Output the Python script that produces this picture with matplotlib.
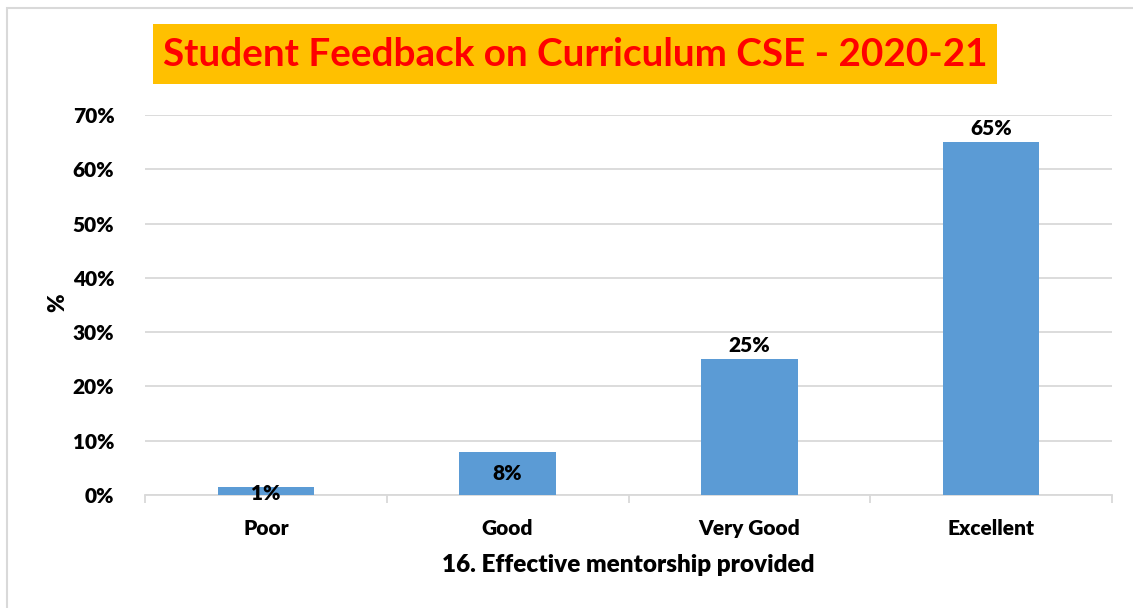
import matplotlib
matplotlib.use("Agg")
import matplotlib.pyplot as plt
from matplotlib.patches import Rectangle
from matplotlib.ticker import FuncFormatter, MultipleLocator

categories = ["Poor", "Good", "Very Good", "Excellent"]
values = [1.4, 7.9, 25, 65]
labels = ["1%", "8%", "25%", "65%"]
label_inside = [True, True, False, False]
title = "Student Feedback on Curriculum CSE - 2020-21"
xlabel = "16. Effective mentorship provided"
ylabel = "%"

FONT = "Lato"
FS = 15
W, H = 1133, 608
fig = plt.figure(figsize=(W / 100, H / 100), dpi=100)
fig.patch.set_facecolor("white")

# outer light border (extends past right/bottom edges)
fig.patches.append(Rectangle((7 / W, -0.1), 1.2, 1 - 8 / H + 0.1, transform=fig.transFigure,
                             fill=False, edgecolor="#d9d9d9", linewidth=1.5))

ax = fig.add_axes([145 / W, 1 - 495 / H, (1112 - 145) / W, (495 - 115) / H])
x = list(range(len(categories)))
bars = ax.bar(x, values, width=0.4, color="#5b9bd5", zorder=3)
ax.set_xlim(-0.5, len(categories) - 0.5)
ax.set_ylim(0, 70)
ax.yaxis.set_major_locator(MultipleLocator(10))
ax.yaxis.set_major_formatter(FuncFormatter(lambda v, p: f"{v:.0f}%"))
ax.grid(axis="y", color="#d9d9d9", linewidth=1.3, zorder=0)
for s in ["top", "right", "left"]:
    ax.spines[s].set_visible(False)
ax.spines["bottom"].set_color("#d9d9d9")
ax.spines["bottom"].set_linewidth(1.3)
ax.tick_params(axis="y", length=0, pad=22, labelsize=FS)
ax.set_xticks(x)
ax.set_xticklabels(categories)
ax.tick_params(axis="x", length=0, pad=17, labelsize=FS)
ax.set_xticks([i - 0.5 for i in range(len(categories) + 1)], minor=True)
ax.tick_params(axis="x", which="minor", length=6, color="#d9d9d9", width=1.3)
for t in ax.get_xticklabels() + ax.get_yticklabels():
    t.set_fontfamily(FONT)
    t.set_fontweight("heavy")

for b, lab, inside in zip(bars, labels, label_inside):
    cx = b.get_x() + b.get_width() / 2
    if inside:
        ax.annotate(lab, (cx, b.get_height() / 2), ha="center", va="center",
                    fontsize=FS, fontweight="heavy", family=FONT, zorder=4,
                    xytext=(0, -2 if b.get_height() < 3 else 0), textcoords="offset points")
    else:
        ax.annotate(lab, (cx, b.get_height()), xytext=(0, 3), textcoords="offset points",
                    ha="center", va="bottom", fontsize=FS, fontweight="heavy", family=FONT)

ax.set_xlabel(xlabel, fontsize=17.5, fontweight="heavy", family=FONT, labelpad=12)
fig.text(58 / W, 1 - 303 / H, ylabel, rotation=90, ha="center", va="center",
         fontsize=16, fontweight="heavy", family=FONT)

# title box
fig.patches.append(Rectangle((153 / W, 1 - 84 / H), (997 - 153) / W, 60 / H,
                             transform=fig.transFigure, facecolor="#ffc000",
                             edgecolor="none"))
fig.text(575 / W, 1 - 55 / H, title, ha="center", va="center", color="#ff0000",
         fontsize=27.8, fontweight="bold", family=FONT)

fig.savefig("out.png", dpi=100, facecolor="white")
